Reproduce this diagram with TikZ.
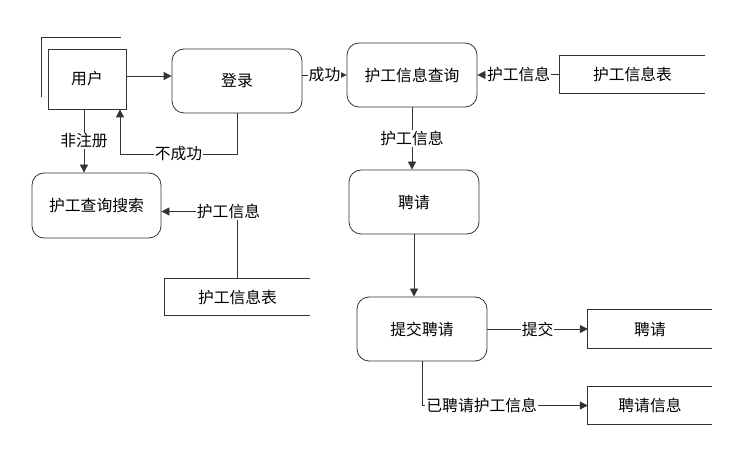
\documentclass[tikz,border=0pt]{standalone}
\usepackage{fontspec}
\newfontfamily\cjk{Noto Sans CJK SC}
\usepackage{tikz}
\usetikzlibrary{
  arrows.meta,   % Triangle 箭头
  calc           % 坐标计算
}
\tikzset{
  proc/.style={
    draw=black!80,
    line width=0.8pt,
    rounded corners=12pt,
    minimum width=130pt,
    minimum height=64pt,
    font=\cjk\fontsize{15.8}{18}\selectfont
  },
  entity/.style={
    draw=black!80,
    line width=0.8pt,
    minimum width=78pt,
    minimum height=60pt,
    font=\cjk\fontsize{15.8}{18}\selectfont
  },
  store/.style={
    minimum width=145pt,
    minimum height=37pt,
    font=\cjk\fontsize{15.8}{18}\selectfont
  },
  storeline/.style={
    draw=black!80,
    line width=0.8pt
  },
  flow/.style={
    -{Triangle[length=8pt,width=8pt]},
    draw=black!80,
    line width=0.8pt
  },
  lbl/.style={
    fill=white,
    inner sep=1pt,
    text=black,
    font=\cjk\fontsize{15.8}{18}\selectfont
  }
}
\begin{document}
\begin{tikzpicture}[x=1pt, y=-1pt]

  \useasboundingbox (0,0) rectangle (742,462);

  % 1. 外部实体与处理
  \draw[storeline] (41,97) -- (41,37) -- (121,37);
  \node[entity] (user) at (87,79) {用户};
  \node[proc] (login) at (237,81) {登录};
  \node[proc] (query) at (412,75) {护工信息查询};
  \node[proc] (hire) at (414,202) {聘请};
  \node[proc] (submit) at (422,329) {提交聘请};
  \node[proc, minimum width=129pt, minimum height=65pt] (search) at (96.5,205.5) {护工查询搜索};

  % 2. 数据存储 (右侧开口)
  \node[store] (tableA) at (632.5,74.5) {护工信息表};
  \node[store] (tableB) at (237.5,297) {护工信息表};
  \node[store, minimum width=124pt, minimum height=38pt] (hireDB) at (650,329) {聘请};
  \node[store, minimum width=124pt, minimum height=37pt] (hireInfo) at (650,405.5) {聘请信息};
  \foreach \s in {tableA,tableB,hireDB,hireInfo}
    \draw[storeline] (\s.north east) -- (\s.north west) -- (\s.south west) -- (\s.south east);

  % 3. 数据流
  \draw[flow] ([yshift=3pt]user.east) -- ([yshift=3pt]user.east -| login.west);
  \draw[flow] (login.east |- query.west) -- node[lbl]{成功} (query.west);
  \coordinate (back) at (120,154);
  \draw[flow] (login.south) |- node[lbl, pos=0.75]{不成功} (back) -- (back |- user.south);
  \draw[flow] ([xshift=-3pt]user.south) -- node[lbl]{非注册} ([xshift=-3pt]user.south |- search.north);
  \draw[flow] (tableA.west) -- node[lbl]{护工信息} (query.east);
  \draw[flow] (query.south) -- node[lbl]{护工信息} (query.south |- hire.north);
  \draw[flow] (hire.south) -- (hire.south |- submit.north);
  \draw[flow] (submit.east) -- node[lbl]{提交} (hireDB.west);
  \draw[flow] (submit.south) |- node[lbl, pos=0.5, anchor=west, xshift=3pt]{已聘请护工信息} (hireInfo.west);
  \draw[flow] (tableB.north) |- node[lbl, pos=0.5, xshift=-9pt]{护工信息} ([yshift=-6pt]search.east);

\end{tikzpicture}
\end{document}
